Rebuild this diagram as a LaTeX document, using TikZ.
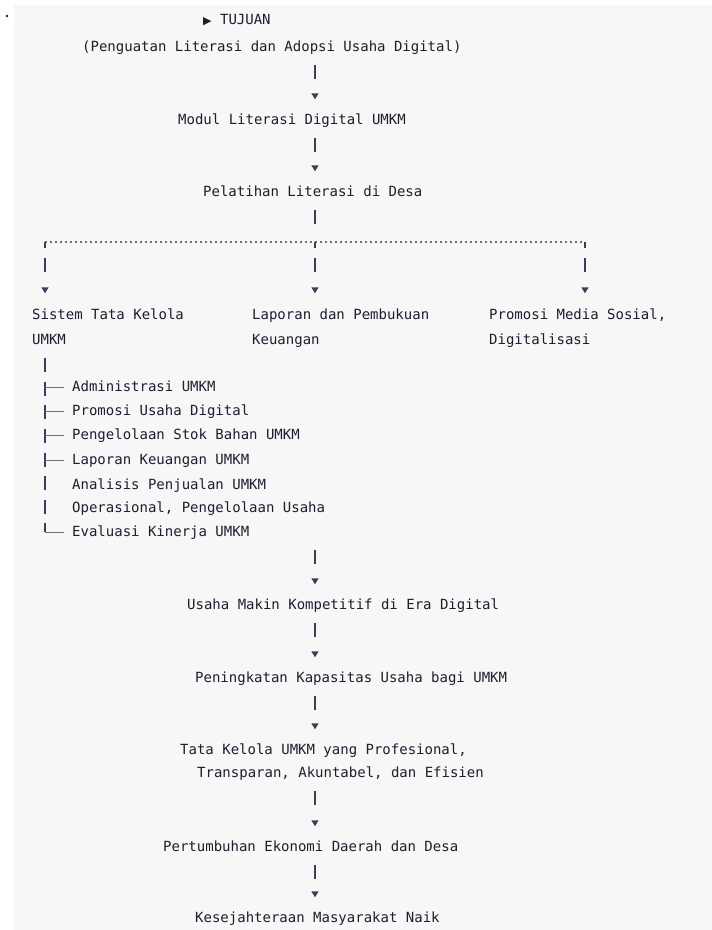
\documentclass[tikz,border=0pt]{standalone}
\usepackage{fontspec}
\newfontfamily\codefont{DejaVu Sans Mono}
\newfontfamily\symfont{DejaVu Sans}
\usetikzlibrary{arrows.meta}
\definecolor{panel}{HTML}{F7F7F7}
\definecolor{txt}{HTML}{1C1F2E}
\definecolor{pipe}{HTML}{463856}
\definecolor{faint}{HTML}{6E6E7C}
\tikzset{
  x=1pt, y=1pt,
  lbl/.style={anchor=west, inner sep=0pt, text height=9pt, text depth=0pt,
              font=\codefont\fontsize{14}{16}\selectfont, text=txt},
  conn/.style={draw=pipe, line width=1.4pt, shorten <=13.5pt, shorten >=16pt,
               dash pattern=on 14pt off 40pt,
               -{Triangle[length=6pt,width=7pt]}},
  stem/.style={draw=pipe, line width=1.4pt, shorten <=13.5pt,
               dash pattern=on 14pt off 40pt},
  drop/.style={draw=pipe, line width=1.4pt, shorten >=17pt,
               dash pattern=on 6pt off 10pt on 14pt off 40pt,
               -{Triangle[length=6pt,width=7pt]}},
  hline/.style={draw=faint, line width=1.1pt, dash pattern=on 2pt off 3pt},
  treeline/.style={draw=pipe, line width=1.4pt, shorten <=13.5pt,
                   dash pattern=on 14pt off 9.6pt},
  tick/.style={draw=faint, line width=1pt}
}
\begin{document}
\begin{tikzpicture}
\useasboundingbox (0,0) rectangle (712,-930);
\fill[white] (0,0) rectangle (712,-930);
\fill[panel] (14,-5) rectangle (712,-930);
\fill[txt] (7,-16) circle (1.3pt);

% column coordinates
\coordinate (cx) at (315,0);
\coordinate (split) at (315,-242);
\coordinate (bl) at (45,-242);
\coordinate (br) at (585,-242);

% top section
\node[lbl] (h0) at (203,-20) {{\symfont\fontsize{11}{14}\selectfont ▶} TUJUAN};
\node[lbl] (h1) at (82,-47) {(Penguatan Literasi dan Adopsi Usaha Digital)};
\node[lbl] (h2) at (178,-120) {Modul Literasi Digital UMKM};
\node[lbl] (h3) at (203,-192) {Pelatihan Literasi di Desa};

% branches
\node[lbl] (l1) at (32,-315) {Sistem Tata Kelola};
\node[lbl] (l2) at (32,-340) {UMKM};
\node[lbl] (c1) at (252,-315) {Laporan dan Pembukuan};
\node[lbl] (c2) at (252,-340) {Keuangan};
\node[lbl] (r1) at (489,-315) {Promosi Media Sosial,};
\node[lbl] (r2) at (489,-340) {Digitalisasi};

% tree items
\node[lbl] (t1) at (72,-387) {Administrasi UMKM};
\node[lbl] (t2) at (72,-411) {Promosi Usaha Digital};
\node[lbl] (t3) at (72,-435) {Pengelolaan Stok Bahan UMKM};
\node[lbl] (t4) at (72,-460) {Laporan Keuangan UMKM};
\node[lbl] (t5) at (72,-485) {Analisis Penjualan UMKM};
\node[lbl] (t6) at (72,-508) {Operasional, Pengelolaan Usaha};
\node[lbl] (t7) at (72,-532) {Evaluasi Kinerja UMKM};
\coordinate (tend) at (315,-536.5);

% lower section
\node[lbl] (m1) at (187,-605) {Usaha Makin Kompetitif di Era Digital};
\node[lbl] (m2) at (195,-678) {Peningkatan Kapasitas Usaha bagi UMKM};
\node[lbl] (m3) at (180,-750) {Tata Kelola UMKM yang Profesional,};
\node[lbl] (m3b) at (197,-773) {Transparan, Akuntabel, dan Efisien};
\node[lbl] (m4) at (163,-847) {Pertumbuhan Ekonomi Daerah dan Desa};
\node[lbl] (m5) at (195,-918) {Kesejahteraan Masyarakat Naik};

% connectors
\draw[conn] (h1.south -| cx) -- (h2.north -| cx);
\draw[conn] (h2.south -| cx) -- (h3.north -| cx);
\draw[stem] (h3.south -| cx) -- (split);
\draw[hline] (bl) -- (split) -- (br);
\draw[drop] (bl) -- (l1.north -| bl);
\draw[drop] (split) -- (c1.north -| split);
\draw[drop] (br) -- (r1.north -| br);

% tree
\draw[treeline] (l2.south -| bl) -- (bl |- t7.west);
\foreach \t in {t1,t2,t3,t4,t7}
  \draw[tick] (bl |- \t.west) -- ([xshift=-8pt]\t.west);

\draw[conn] (tend) -- (m1.north -| cx);
\draw[conn] (m1.south -| cx) -- (m2.north -| cx);
\draw[conn] (m2.south -| cx) -- (m3.north -| cx);
\draw[conn] (m3b.south -| cx) -- (m4.north -| cx);
\draw[conn] (m4.south -| cx) -- (m5.north -| cx);
\end{tikzpicture}
\end{document}
